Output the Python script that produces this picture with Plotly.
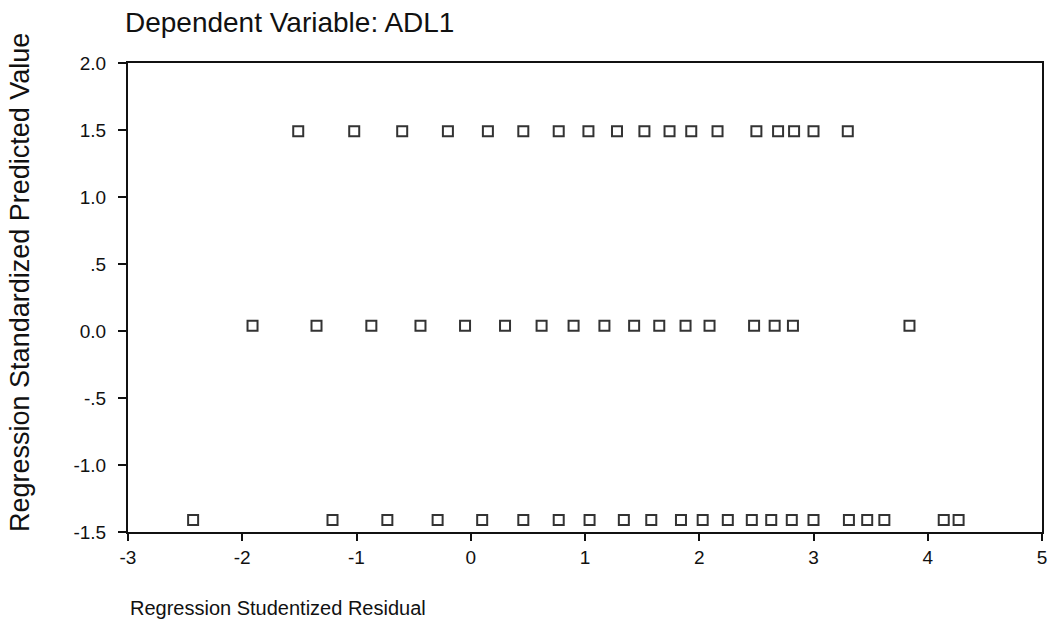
import plotly.graph_objects as go

# Regression Studentized Residual (x) for each predicted-value level (y)
top_x = [-1.51, -1.02, -0.60, -0.20, 0.15, 0.46, 0.77, 1.03, 1.28, 1.52, 1.74, 1.93,
         2.16, 2.50, 2.69, 2.83, 3.00, 3.30]
top_y = 1.49

mid_x = [-1.91, -1.35, -0.87, -0.44, -0.05, 0.30, 0.62, 0.90, 1.17, 1.43, 1.65, 1.88,
         2.09, 2.48, 2.66, 2.82, 3.84]
mid_y = 0.04

bot_x = [-2.43, -1.21, -0.73, -0.29, 0.10, 0.46, 0.77, 1.04, 1.34, 1.58, 1.84, 2.03,
         2.25, 2.46, 2.63, 2.81, 3.00, 3.31, 3.47, 3.62, 4.14, 4.27]
bot_y = -1.41

x_ticks = [-3, -2, -1, 0, 1, 2, 3, 4, 5]
y_ticks = [-1.5, -1.0, -0.5, 0.0, 0.5, 1.0, 1.5, 2.0]
y_tick_text = ["-1.5", "-1.0", "-.5", "0.0", ".5", "1.0", "1.5", "2.0"]

xs = top_x + mid_x + bot_x
ys = [top_y] * len(top_x) + [mid_y] * len(mid_x) + [bot_y] * len(bot_x)

FONT = "Liberation Sans, Arial, Helvetica, sans-serif"
INK = "#111111"

fig = go.Figure()
fig.add_trace(go.Scatter(
    x=xs, y=ys, mode="markers",
    marker=dict(symbol="square-open", size=10, color="#333333",
                line=dict(width=2, color="#333333")),
    showlegend=False, hoverinfo="x+y",
))

fig.update_layout(
    width=1059, height=639,
    margin=dict(l=128, r=13, t=63, b=107),
    paper_bgcolor="white", plot_bgcolor="white",
    font=dict(family=FONT, color=INK, size=19),
    title=dict(text="Dependent Variable: ADL1", x=0.118, xanchor="left",
               y=0.966, yanchor="middle",
               font=dict(family=FONT, size=28, color=INK)),
    annotations=[
        dict(text="Regression Studentized Residual", xref="paper", yref="paper",
             x=0, y=0, xanchor="left", yanchor="middle", yshift=-76,
             showarrow=False, font=dict(family=FONT, size=20, color=INK)),
        dict(text="Regression Standardized Predicted Value", xref="paper",
             yref="paper", x=0, y=0.531, xanchor="center", yanchor="middle",
             xshift=-108, textangle=-90, showarrow=False,
             font=dict(family=FONT, size=27, color=INK)),
    ],
)
fig.update_xaxes(
    range=[-3, 5], tickvals=x_ticks, ticktext=[str(v) for v in x_ticks],
    ticks="outside", ticklen=7, tickwidth=2, tickcolor=INK,
    showline=True, linewidth=2, linecolor=INK, mirror=True,
    showgrid=False, zeroline=False, tickfont=dict(size=19),
)
fig.update_yaxes(
    range=[-1.5, 2.0], tickvals=y_ticks, ticktext=y_tick_text,
    ticks="outside", ticklen=8, tickwidth=2, tickcolor=INK,
    ticklabelstandoff=8,
    showline=True, linewidth=2, linecolor=INK, mirror=True,
    showgrid=False, zeroline=False, tickfont=dict(size=19),
)

fig.write_html("out.html")
